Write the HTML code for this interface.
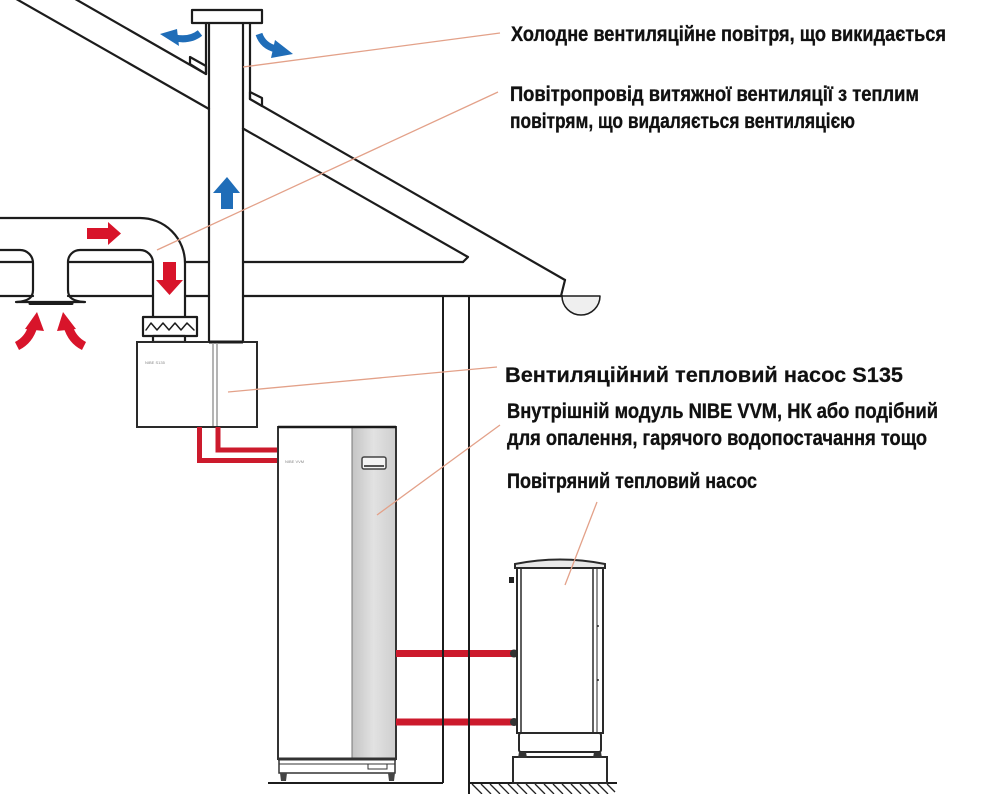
<!DOCTYPE html>
<html>
<head>
<meta charset="utf-8">
<style>
  html, body { margin: 0; padding: 0; background: #ffffff; }
  svg { display: block; }
  .lbl { font-family: "Liberation Sans Narrow", "Liberation Sans", "DejaVu Sans Condensed", sans-serif; font-weight: bold; font-size: 21px; fill: #111; stroke: #111; stroke-width: 0.35; }
  .lbl2 { font-family: "Liberation Sans", "DejaVu Sans", sans-serif; font-weight: bold; font-size: 21px; fill: #111; stroke: #111; stroke-width: 0.2; }
</style>
</head>
<body>
<svg width="997" height="794" viewBox="0 0 997 794" xmlns="http://www.w3.org/2000/svg">
  <defs>
    <linearGradient id="gpanel" x1="0" x2="1" y1="0" y2="0">
      <stop offset="0" stop-color="#c4c4c4"/>
      <stop offset="0.5" stop-color="#e2e2e2"/>
      <stop offset="1" stop-color="#cfcfcf"/>
    </linearGradient>
  </defs>

  <g fill="none" stroke="#1c1c1c" stroke-width="2.2" stroke-linecap="round" stroke-linejoin="round">
    <!-- roof upper line -->
    <line x1="70" y1="-4" x2="206" y2="74"/>
    <line x1="250" y1="99" x2="565" y2="280"/>
    <polyline points="565,280 561,296"/>
    <!-- roof lower (inner) line -->
    <line x1="11" y1="-4" x2="209" y2="109"/>
    <polyline points="243,128.5 468,257 463,262"/>
    <!-- ceiling lines -->
    <line x1="0" y1="262" x2="33" y2="262"/>
    <line x1="68" y1="262" x2="153" y2="262"/>
    <line x1="185" y1="262" x2="209" y2="262"/>
    <line x1="243" y1="262" x2="463" y2="262"/>
    <line x1="0" y1="296" x2="33" y2="296"/>
    <line x1="68" y1="296" x2="153" y2="296"/>
    <line x1="185" y1="296" x2="209" y2="296"/>
    <line x1="243" y1="296" x2="562" y2="296"/>
    <!-- flashings -->
    <polygon points="190,64 190,57 206,66 206,74" fill="#fff"/>
    <polygon points="250,92 262,98 262,106 250,99" fill="#fff"/>
    <!-- chimney / exhaust pipe -->
    <line x1="206" y1="23" x2="206" y2="74"/>
    <line x1="250" y1="23" x2="250" y2="99"/>
    <line x1="209" y1="23" x2="209" y2="342"/>
    <line x1="243" y1="23" x2="243" y2="342"/>
    <rect x="192" y="10" width="70" height="13" fill="#fff"/>

    <!-- ducts -->
    <path d="M0,218 H140 A45,45 0 0 1 185,263 V317"/>
    <path d="M0,250 H20 A13,13 0 0 1 33,263 V290 C33,298 28,301 17,302"/>
    <path d="M84,302 C73,301 68,298 68,290 V262 A12,12 0 0 1 80,250 H140 A13,13 0 0 1 153,263 V317"/>
    <line x1="16" y1="302" x2="85" y2="302"/>
    <line x1="30" y1="303.5" x2="72" y2="303.5" stroke-width="3"/>

    <!-- filter -->
    <rect x="143" y="317" width="54" height="19" fill="#fff"/>
    <polyline points="146,330 151,323 157,330 163,323 169,330 175,323 181,330 187,323 194,330" stroke-width="1.5"/>
    <rect x="153" y="336" width="32" height="6" fill="#fff"/>

    <!-- gutter -->
    <path d="M562,296 A19,19 0 0 0 600,296 Z" fill="#efefef" stroke-width="1.5"/>
  </g>

  <!-- S135 unit -->
  <g stroke="#2a2a2a" stroke-width="2" fill="#fff">
    <rect x="137" y="342" width="120" height="85"/>
  </g>
  <line x1="209" y1="342" x2="243" y2="342" stroke="#1c1c1c" stroke-width="3"/>
  <line x1="213" y1="343" x2="213" y2="426" stroke="#9a9a9a" stroke-width="1.5"/>
  <line x1="217" y1="343" x2="217" y2="426" stroke="#9a9a9a" stroke-width="1.5"/>
  <text x="145" y="364" font-family="Liberation Sans, sans-serif" font-size="4" fill="#888">NIBE S135</text>

  <!-- red pipes S135 to indoor module -->
  <g fill="none" stroke="#cc1a2c" stroke-width="5" stroke-linejoin="miter">
    <path d="M199.5,427 V460.5 H279"/>
    <path d="M218,427 V450 H279"/>
  </g>

  <!-- indoor module -->
  <rect x="278" y="427" width="118" height="332" fill="#fff" stroke="#333" stroke-width="2"/>
  <rect x="352" y="428" width="43" height="330" fill="url(#gpanel)"/>
  <line x1="352" y1="428" x2="352" y2="758" stroke="#777" stroke-width="1"/>
  <line x1="278" y1="427" x2="396" y2="427" stroke="#1a1a1a" stroke-width="2.5"/>
  <rect x="362" y="457" width="24" height="12" rx="2" fill="#f4f4f4" stroke="#444" stroke-width="1.5"/>
  <line x1="364" y1="466" x2="384" y2="466" stroke="#555" stroke-width="2"/>
  <text x="285" y="463" font-family="Liberation Sans, sans-serif" font-size="4" fill="#888">NIBE VVM</text>
  <!-- base -->
  <g stroke="#333" fill="#fff">
    <rect x="279" y="759" width="116" height="14" stroke-width="1.5"/>
    <line x1="278" y1="759" x2="396" y2="759" stroke-width="3"/>
    <line x1="279" y1="764" x2="395" y2="764" stroke-width="1"/>
    <rect x="368" y="764" width="19" height="5" stroke-width="1"/>
  </g>
  <polygon points="280,773 287,773 286,781 281,781" fill="#444"/>
  <polygon points="388,773 395,773 394,781 389,781" fill="#444"/>

  <!-- red pipes to outdoor unit -->
  <g stroke="#cc1a2c" stroke-width="7">
    <line x1="396" y1="653.5" x2="512" y2="653.5"/>
    <line x1="396" y1="722" x2="512" y2="722"/>
  </g>
  <circle cx="514" cy="653.5" r="4" fill="#333"/>
  <circle cx="514" cy="722" r="4" fill="#333"/>

  <!-- wall -->
  <g stroke="#1c1c1c" stroke-width="2">
    <line x1="443" y1="296" x2="443" y2="783"/>
    <line x1="469" y1="296" x2="469" y2="794"/>
    <!-- ground -->
    <line x1="268" y1="783" x2="443" y2="783"/>
    <line x1="469" y1="783" x2="617" y2="783"/>
  </g>
  <g stroke="#222" stroke-width="1.3">
    <line x1="472" y1="784" x2="482" y2="794"/>
    <line x1="481" y1="784" x2="491" y2="794"/>
    <line x1="490" y1="784" x2="500" y2="794"/>
    <line x1="499" y1="784" x2="509" y2="794"/>
    <line x1="508" y1="784" x2="518" y2="794"/>
    <line x1="517" y1="784" x2="527" y2="794"/>
    <line x1="526" y1="784" x2="536" y2="794"/>
    <line x1="535" y1="784" x2="545" y2="794"/>
    <line x1="544" y1="784" x2="554" y2="794"/>
    <line x1="553" y1="784" x2="563" y2="794"/>
    <line x1="562" y1="784" x2="572" y2="794"/>
    <line x1="571" y1="784" x2="581" y2="794"/>
    <line x1="580" y1="784" x2="590" y2="794"/>
    <line x1="589" y1="784" x2="599" y2="794"/>
    <line x1="598" y1="784" x2="608" y2="794"/>
    <line x1="607" y1="784" x2="615" y2="792"/>
  </g>

  <!-- outdoor unit -->
  <g stroke="#2a2a2a" fill="#fff">
    <rect x="517" y="567" width="86" height="166" stroke-width="2"/>
    <line x1="521" y1="568" x2="521" y2="733" stroke-width="1.5"/>
    <line x1="593" y1="568" x2="593" y2="733" stroke-width="1.5"/>
    <line x1="597" y1="568" x2="597" y2="733" stroke-width="1"/>
    <path d="M515,568 L515,564 Q560,555 605,564 L605,568 Z" fill="#e8e8e8" stroke-width="2"/>
    <rect x="519" y="733" width="82" height="19" rx="2" stroke-width="2"/>
    <rect x="513" y="757" width="94" height="26" stroke-width="2"/>
  </g>
  <polygon points="519,752 526,752 527,758 518,758" fill="#333"/>
  <polygon points="594,752 601,752 602,758 593,758" fill="#333"/>
  <rect x="509" y="577" width="5" height="6" fill="#222"/>
  <circle cx="598" cy="626" r="1" fill="#333"/>
  <circle cx="598" cy="680" r="1" fill="#333"/>

  <!-- blue arrows -->
  <g fill="#1f6db8">
    <polygon points="227,177 213,193 221,193 221,209 233,209 233,193 240,193"/>
    <path d="M200,33 Q190,41 175,38" fill="none" stroke="#1f6db8" stroke-width="7"/>
    <polygon points="177,29 160,34 179,46"/>
    <path d="M259,34 Q263,46 276,49" fill="none" stroke="#1f6db8" stroke-width="7"/>
    <polygon points="275,40 293,54 271,58"/>
  </g>

  <!-- red arrows -->
  <g fill="#d8142a">
    <rect x="87" y="228" width="22" height="11"/>
    <polygon points="108,222 121,233.5 108,245"/>
    <rect x="163" y="262" width="13" height="19"/>
    <polygon points="156,280 169.5,295 183,280"/>
    <path d="M17,346 Q29,340 33,326" fill="none" stroke="#d8142a" stroke-width="9"/>
    <polygon points="25,329 37,312 44,331"/>
    <path d="M84,346 Q72,340 68,326" fill="none" stroke="#d8142a" stroke-width="9"/>
    <polygon points="57,331 63,312 76,329"/>
  </g>

  <!-- leader lines -->
  <g stroke="#e3a189" stroke-width="1.3" fill="none">
    <line x1="243" y1="67" x2="500" y2="33"/>
    <line x1="157" y1="250" x2="498" y2="92"/>
    <line x1="228" y1="392" x2="497" y2="367"/>
    <line x1="377" y1="515" x2="500" y2="425"/>
    <line x1="565" y1="585" x2="597" y2="502"/>
  </g>

  <!-- labels -->
  <text class="lbl" x="511" y="41" textLength="435" lengthAdjust="spacingAndGlyphs">Холодне вентиляційне повітря, що викидається</text>
  <text class="lbl" x="510" y="101" textLength="409" lengthAdjust="spacingAndGlyphs">Повітропровід витяжної вентиляції з теплим</text>
  <text class="lbl" x="510" y="128" textLength="345" lengthAdjust="spacingAndGlyphs">повітрям, що видаляється вентиляцією</text>
  <text class="lbl2" x="505" y="382" textLength="398" lengthAdjust="spacingAndGlyphs">Вентиляційний тепловий насос S135</text>
  <text class="lbl" x="507" y="418" textLength="431" lengthAdjust="spacingAndGlyphs">Внутрішній модуль NIBE VVM, НК або подібний</text>
  <text class="lbl" x="507" y="445" textLength="420" lengthAdjust="spacingAndGlyphs">для опалення, гарячого водопостачання тощо</text>
  <text class="lbl" x="507" y="488" textLength="250" lengthAdjust="spacingAndGlyphs">Повітряний тепловий насос</text>
</svg>
</body>
</html>
